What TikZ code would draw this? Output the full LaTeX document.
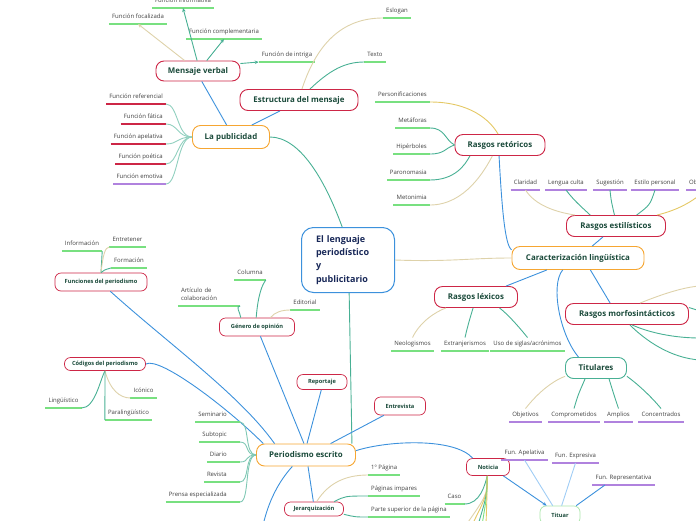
\documentclass[tikz,border=0pt]{standalone}
\usepackage{fontspec}
\setmainfont{Open Sans}
\usepackage{tikz}
\usetikzlibrary{arrows.meta}
\definecolor{mRed}{RGB}{205,38,70}
\definecolor{mOrange}{RGB}{246,166,50}
\definecolor{mBlue}{RGB}{60,145,220}
\definecolor{mTeal}{RGB}{72,176,148}
\definecolor{mGreen}{RGB}{120,224,128}
\definecolor{mPurple}{RGB}{176,130,222}
\definecolor{mBeige}{RGB}{222,210,170}
\definecolor{mYellow}{RGB}{228,200,100}
\definecolor{mSky}{RGB}{160,205,245}
\definecolor{mMint}{RGB}{170,230,170}
\definecolor{mText}{RGB}{26,74,58}
\definecolor{mNavy}{RGB}{24,40,88}
\tikzset{
  rootbox/.style={draw=mBlue, line width=1pt, fill=white, rounded corners=12pt, text=mNavy,
    font=\fontsize{9}{13.3}\selectfont\bfseries, align=left, text width=64pt,
    minimum width=93pt, minimum height=65pt},
  topic/.style={draw=#1, line width=0.9pt, fill=white, rounded corners=8pt, text=mText,
    font=\fontsize{7.9}{9}\selectfont\bfseries, minimum height=21pt},
  subtopic/.style={draw=#1, line width=0.7pt, fill=white, rounded corners=6pt, text=mText,
    font=\fontsize{5.7}{6.5}\selectfont\bfseries, minimum height=16pt},
  leaf/.style={font=\fontsize{6}{7}\selectfont, text=black!75, inner xsep=3pt, inner ysep=3.6pt,
    text height=4.5pt, text depth=1.4pt,
    append after command={(\tikzlastnode.south west) edge[draw=#1, line width=1.1pt] (\tikzlastnode.south east)}},
  link/.style={draw=#1, line width=0.9pt},
  arr/.style={link=#1, -{Stealth[length=4pt, width=3.5pt]}}
}
\begin{document}
\begin{tikzpicture}[x=1pt, y=-1pt]
  \useasboundingbox (0,0) rectangle (696,520);
  \clip (0,0) rectangle (696,520);

  % main topics
  \node[rootbox] (root) at (348,260) {El lenguaje\\periodístico\\y\\publicitario};
  \node[topic=mOrange, minimum width=77pt, minimum height=23pt] (pub) at (231,137) {La publicidad};
  \node[topic=mRed, minimum width=84pt, minimum height=20pt] (mens) at (198,71) {Mensaje verbal};
  \node[topic=mRed, minimum width=118pt] (estr) at (299,100) {Estructura del mensaje};
  \node[topic=mRed, minimum width=90pt] (retor) at (500,145) {Rasgos retóricos};
  \node[topic=mRed, minimum width=99pt] (estil) at (616,226) {Rasgos estilísticos};
  \node[topic=mOrange, minimum width=132pt, minimum height=23pt] (carac) at (578,258) {Caracterización lingüística};
  \node[topic=mRed, minimum width=83pt] (lexic) at (476,297) {Rasgos léxicos};
  \node[topic=mRed, minimum width=123pt] (morfo) at (627,314) {Rasgos morfosintácticos};
  \node[topic=mTeal, minimum width=61pt] (titul) at (596,368) {Titulares};
  \node[topic=mOrange, minimum width=99pt, minimum height=22pt] (perio) at (306,455) {Periodismo escrito};

  \node[subtopic=mRed, minimum width=92pt, minimum height=18pt] (funci) at (101,282) {Funciones del periodismo};
  \node[subtopic=mRed, minimum width=75pt, minimum height=18pt] (gener) at (257,327) {Género de opinión};
  \node[subtopic=mRed, minimum width=81pt, minimum height=13pt] (codig) at (105,364) {Códigos del periodismo};
  \node[subtopic=mRed, minimum width=50pt, minimum height=15pt] (repor) at (322,382) {Reportaje};
  \node[subtopic=mRed, minimum width=51pt, minimum height=18pt] (entre) at (400,406) {Entrevista};
  \node[subtopic=mRed, minimum width=59pt, minimum height=14pt] (jerar) at (314,509) {Jerarquización};
  \node[subtopic=mRed, minimum width=43pt, minimum height=17pt] (notic) at (488,467) {Noticia};
  \node[subtopic=mMint, minimum width=40pt, minimum height=18pt] (titua) at (560,515) {Tituar};

  % la publicidad
  \node[leaf=mGreen, anchor=south] (fInfo) at (183,8) {Función informativa};
  \node[leaf=mGreen, anchor=south] (fFoc) at (138,24) {Función focalizada};
  \node[leaf=mGreen, anchor=south] (fComp) at (224,39) {Función complementaria};
  \node[leaf=mGreen, anchor=south] (fIntr) at (287,62) {Función de intriga};
  \draw[arr=mBeige] (mens.142) -- (fFoc.south);
  \draw[arr=mTeal] (mens.95) -- (fInfo.south);
  \draw[arr=mTeal] (mens.50) -- (fComp.south);
  \draw[arr=mTeal] (mens.10) -- (fIntr.south west);

  \node[leaf=mGreen, anchor=south] (eslo) at (397,18) {Eslogan};
  \node[leaf=mGreen, anchor=south] (texto) at (375,62) {Texto};
  \draw[link=mBeige] (estr.75) .. controls (318,40) and (345,18) .. (eslo.south west);
  \draw[link=mTeal] (estr.45) .. controls (330,70) and (345,62) .. (texto.south west);

  \node[leaf=mRed, anchor=south east] (pRef) at (166,104) {Función referencial};
  \node[leaf=mRed, anchor=south east] (pFat) at (166,124) {Función fática};
  \node[leaf=mRed, anchor=south east] (pApe) at (166,144) {Función apelativa};
  \node[leaf=mRed, anchor=south east] (pPoe) at (166,164) {Función poética};
  \node[leaf=mPurple, anchor=south east] (pEmo) at (166,184) {Función emotiva};
  \foreach \n in {pRef,pFat,pApe,pPoe,pEmo}
    \draw[link=mTeal!60] (pub.west) .. controls +(-15,0) and +(12,0) .. (\n.south east);

  \draw[link=mBlue] (mens.-70) -- (pub.110);
  \draw[link=mBlue] (estr.-150) -- (pub.30);
  \draw[link=mTeal] (pub.east) .. controls (300,137) and (325,180) .. (root.100);

  % caracterizacion linguistica
  \node[leaf=mGreen, anchor=south east] (rPers) at (430,102) {Personificaciones};
  \node[leaf=mGreen, anchor=south east] (rMeta) at (430,128) {Metáforas};
  \node[leaf=mGreen, anchor=south east] (rHipe) at (430,154) {Hipérboles};
  \node[leaf=mGreen, anchor=south east] (rParo) at (430,180) {Paronomasia};
  \node[leaf=mGreen, anchor=south east] (rMeto) at (430,205) {Metonimia};
  \draw[link=mYellow] (rPers.south east) .. controls (470,102) and (490,120) .. (retor.100);
  \draw[link=mTeal] (rMeta.south east) .. controls (445,128) and (445,140) .. (retor.west);
  \draw[link=mTeal] (rHipe.south east) .. controls (445,154) and (445,148) .. (retor.west);
  \draw[link=mTeal] (rParo.south east) .. controls (455,180) and (465,165) .. (retor.-160);
  \draw[link=mBeige] (rMeto.south east) .. controls (465,205) and (485,170) .. (retor.-125);
  \draw[link=mBlue] (retor.-95) .. controls (502,210) and (505,245) .. (carac.173);

  \node[leaf=mPurple, anchor=south] (eClar) at (525.5,190) {Claridad};
  \node[leaf=mPurple, anchor=south] (eLeng) at (566,190) {Lengua culta};
  \node[leaf=mPurple, anchor=south] (eSuge) at (610,190) {Sugestión};
  \node[leaf=mPurple, anchor=south] (eEsti) at (655,190) {Estilo personal};
  \node[leaf=mPurple, anchor=south west] (eObje) at (686,190) {Objetividad};
  \draw[link=mBeige] (eClar.south) .. controls (535,205) and (555,212) .. (estil.165);
  \draw[link=mTeal] (eLeng.south) .. controls (575,202) and (585,210) .. (estil.157);
  \draw[link=mTeal] (eSuge.south) .. controls (611,200) .. (estil.98);
  \draw[link=mTeal] (eEsti.south) .. controls (650,205) .. (estil.28);
  \draw[link=mYellow] (eObje.south) .. controls (690,205) and (670,212) .. (estil.15);
  \draw[link=mBlue] (estil.-140) -- (carac.40);

  \draw[link=mBeige] (root.east) .. controls (450,262) and (470,258) .. (carac.west);

  \node[leaf=mGreen, anchor=south] (xNeol) at (412.5,351) {Neologismos};
  \node[leaf=mGreen, anchor=south] (xExtr) at (465,351) {Extranjerismos};
  \node[leaf=mGreen, anchor=south] (xSigl) at (527.5,351) {Uso de siglas/acrónimos};
  \draw[link=mBlue] (carac.-159) -- (lexic.20);
  \draw[link=mBeige] (xNeol.north) .. controls (420,322) and (435,312) .. (lexic.-160);
  \draw[link=mTeal] (xExtr.north) .. controls (468,325) .. (lexic.-105);
  \draw[link=mTeal] (xSigl.north) .. controls (515,322) and (505,312) .. (lexic.-25);

  \coordinate (mOut1) at (700,286);
  \coordinate (mOut2) at (700,311);
  \coordinate (mOut3) at (700,338);
  \coordinate (mOut4) at (700,360);
  \draw[link=mBlue] (carac.-44) -- (morfo.147);
  \draw[link=mBeige] (morfo.40) .. controls (665,293) and (685,287) .. (mOut1);
  \draw[link=mTeal] (morfo.6) -- (mOut2);
  \draw[link=mTeal] (morfo.-65) .. controls (650,333) and (675,338) .. (mOut3);
  \draw[link=mTeal] (morfo.-75) .. controls (645,340) and (670,358) .. (mOut4);

  \node[leaf=mPurple, anchor=south] (tObje) at (525.5,422) {Objetivos};
  \node[leaf=mPurple, anchor=south] (tComp) at (574,422) {Comprometidos};
  \node[leaf=mPurple, anchor=south] (tAmpl) at (618.5,422) {Amplios};
  \node[leaf=mPurple, anchor=south] (tConc) at (661,422) {Concentrados};
  \draw[link=mBlue] (carac.-142) .. controls (550,285) and (560,335) .. (titul.148);
  \draw[link=mBeige] (tObje.north) .. controls (540,390) and (555,380) .. (titul.-165);
  \draw[link=mTeal] (tComp.north) .. controls (578,395) .. (titul.-135);
  \draw[link=mTeal] (tAmpl.north) .. controls (614,395) .. (titul.-40);
  \draw[link=mTeal] (tConc.north) .. controls (650,395) and (635,382) .. (titul.-15);

  % periodismo escrito
  \draw[link=mTeal] (root.-88) -- (perio.14);

  \node[leaf=mGreen, anchor=south] (pInfo) at (82,251) {Información};
  \node[leaf=mGreen, anchor=south] (pEntr) at (127.5,247) {Entretener};
  \node[leaf=mGreen, anchor=south] (pForm) at (129,268) {Formación};
  \draw[link=mTeal] (pInfo.south east) -- (funci.north);
  \draw[link=mBeige] (funci.north) .. controls (103,255) and (105,247) .. (pEntr.south west);
  \draw[link=mTeal] (funci.north) .. controls (104,270) .. (pForm.south west);
  \draw[link=mBlue] (funci.-45) .. controls (170,345) and (240,395) .. (perio.160);

  \node[leaf=mGreen, anchor=south] (cLing) at (63.5,408) {Lingüístico};
  \node[leaf=mGreen, anchor=south] (cIcon) at (143.5,398) {Icónico};
  \node[leaf=mGreen, anchor=south] (cPara) at (128.5,420) {Paralingüístico};
  \draw[link=mTeal] (cLing.south east) .. controls (95,408) and (100,380) .. (codig.south);
  \draw[link=mBeige] (codig.south) .. controls (110,390) and (120,398) .. (cIcon.south west);
  \draw[link=mTeal] (codig.south) -- (cPara.south west);
  \draw[link=mBlue] (codig.east) .. controls (160,356) and (230,410) .. (perio.165);

  \node[leaf=mGreen, anchor=south] (gColu) at (250,280) {Columna};
  \node[leaf=mGreen, anchor=south, align=left, text width=56pt, text depth=9.4pt,
    font=\fontsize{6}{8}\selectfont] (gArti) at (209,306) {Artículo de\\colaboración};
  \node[leaf=mGreen, anchor=south] (gEdit) at (305,310) {Editorial};
  \draw[link=mTeal] (gener.95) .. controls (258,295) and (262,285) .. (gColu.south east);
  \draw[link=mTeal] (gArti.south east) .. controls (235,306) and (240,312) .. (gener.150);
  \draw[link=mBeige] (gener.35) .. controls (275,312) and (282,310) .. (gEdit.south west);
  \draw[link=mBlue] (gener.-70) -- (perio.100);

  \draw[link=mBlue] (repor.-95) -- (perio.85);
  \draw[link=mBlue] (entre.-150) -- (perio.25);

  \node[leaf=mGreen, anchor=south east] (sSemi) at (240,422) {Seminario\hspace*{10pt}};
  \node[leaf=mGreen, anchor=south east] (sSubt) at (240,442) {Subtopic\hspace*{10pt}};
  \node[leaf=mGreen, anchor=south east] (sDiar) at (240,462) {Diario\hspace*{10pt}};
  \node[leaf=mGreen, anchor=south east] (sRevi) at (240,482) {Revista\hspace*{10pt}};
  \node[leaf=mGreen, anchor=south east] (sPren) at (240,502) {Prensa especializada\hspace*{10pt}};
  \foreach \n in {sSemi,sSubt,sDiar,sRevi,sPren}
    \draw[link=mTeal!70] (perio.west) .. controls +(-12,0) and +(10,0) .. (\n.south east);

  \coordinate (pOut) at (262,530);
  \draw[link=mBlue] (perio.-140) .. controls (280,480) and (268,500) .. (pOut);

  \node[leaf=mGreen, anchor=south west] (jPrim) at (368,475) {1º Página};
  \node[leaf=mGreen, anchor=south west] (jImpa) at (368,496) {Páginas impares};
  \node[leaf=mGreen, anchor=south west] (jSupe) at (368,517) {Parte superior de la página};
  \draw[link=mBlue] (perio.-80) -- (jerar.95);
  \draw[link=mBeige] (jerar.70) .. controls (330,480) and (350,475) .. (jPrim.south west);
  \draw[link=mTeal] (jerar.20) .. controls (345,496) .. (jImpa.south west);
  \draw[link=mTeal] (jerar.-10) .. controls (355,517) .. (jSupe.south west);

  \node[leaf=mGreen, anchor=south] (nCaso) at (454.5,504) {Caso};
  \draw[link=mBlue] (perio.5) .. controls (390,440) and (455,438) .. (notic.150);
  \draw[link=mTeal] (nCaso.south east) .. controls (480,504) and (485,485) .. (notic.-95);
  \foreach \c/\x [count=\i] in {mBeige/466, mYellow/472, mTeal/478, mGreen/482, mYellow/486} {
    \coordinate (nOut\i) at (\x,525);
    \draw[link=\c] (notic.-95) .. controls (487,495) .. (nOut\i);
  }

  \node[leaf=mPurple, anchor=south] (uApel) at (524.5,460) {Fun. Apelativa};
  \node[leaf=mPurple, anchor=south] (uExpr) at (575.5,463) {Fun. Expresiva};
  \node[leaf=mPurple, anchor=south] (uRepr) at (623.5,485) {Fun. Representativa};
  \draw[arr=mBlue] (notic.-30) -- (titua.145);
  \draw[link=mSky] (uApel.south) -- (titua.128);
  \draw[link=mSky] (uExpr.south) -- (titua.80);
  \draw[link=mBlue] (uRepr.-160) -- (titua.30);
\end{tikzpicture}
\end{document}
